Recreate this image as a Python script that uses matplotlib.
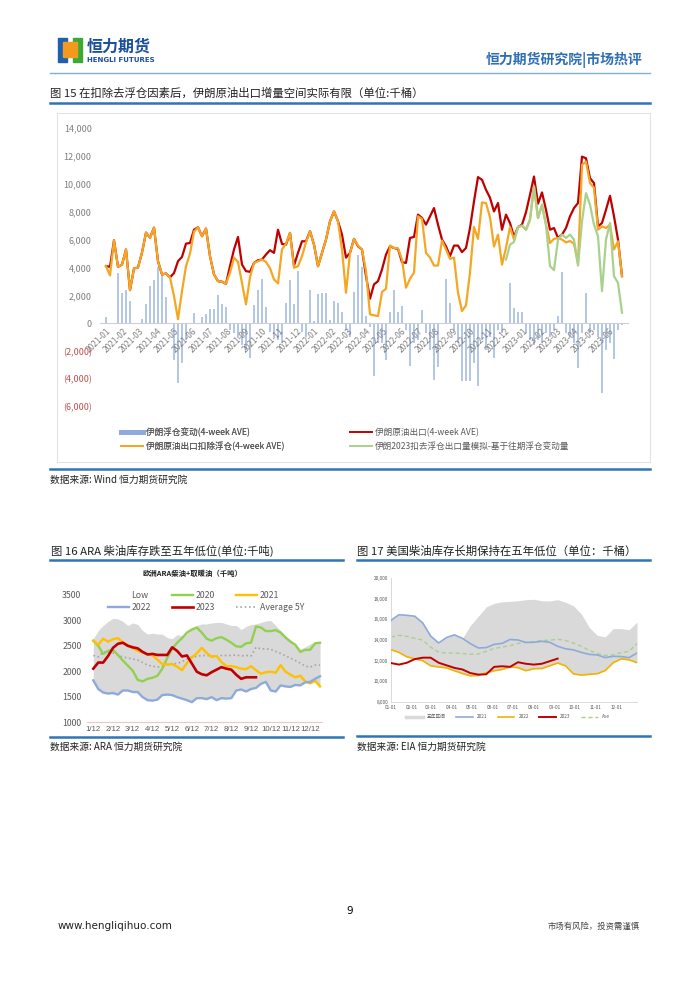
import numpy as np
import pandas as pd
import matplotlib
matplotlib.use("Agg")
import matplotlib.pyplot as plt
from matplotlib.patches import Rectangle
from matplotlib.lines import Line2D

plt.rcParams['font.family'] = ['Noto Sans CJK SC', 'DejaVu Sans']

# ---------------------------------
# 图15 伊朗 (千桶, 周度, 2021-01 起)
# ---------------------------------

iran_float_chg = [
    480, 0, 0, 3570, 2140, 2380, 1620, 0, 0, 290,
    1380, 2670, 3100, 4050, 3570, 1900, 0, -2600, -4290, -2860,
    -1190, 0, 710, 0, 480, 670, 1000, 1020, 2020, 1380,
    1140, -480, -710, -1070, -1550, -1900, -2500, 1310, 2380, 3210,
    1190, -600, -950, -1190, -1380, 1480, 3100, 1380, 3760, -600,
    -950, 2380, 190, 2090, 2190, 2190, 240, 1620, 1480, 830,
    -480, -950, 2260, 4880, 4050, 520, -240, -3810, -1430, -1430,
    -2620, 830, 2380, 830, 1240, -480, -3050, -1430, -1190, 950,
    -670, -1900, -4050, -3100, 0, 3210, 1430, -480, -1430, -4170,
    -4170, -4170, -2860, -4530, -1190, -1900, -950, -2500, -480, -710,
    0, 2860, 1070, 830, 830, -670, -1190, -1550, -1190, -1430,
    -710, -950, -480, 520, 3690, -710, -950, -1430, -3210, -710,
    2190, -710, -480, -950, -5000, -1900, -1430, -2570, -480, -120,
]

iran_export = [
    4100, 4050, 5950, 4050, 4200, 5290, 2380, 3930, 4000, 5070,
    6500, 6140, 6860, 4450, 3500, 3570, 3290, 3600, 4450, 4760,
    5710, 5760, 6710, 6880, 6240, 6790, 4810, 3500, 3020, 2980,
    2830, 4100, 5290, 6190, 4210, 3740, 3690, 4330, 4520, 4570,
    4930, 5240, 5050, 6710, 5690, 5640, 6480, 4140, 5050, 5880,
    5880, 6600, 5640, 4090, 5050, 6000, 7310, 8020, 7310, 6360,
    4710, 5050, 6050, 5520, 5290, 3380, 1760, 2790, 3020, 3860,
    4930, 5520, 5400, 5330, 4380, 4330, 6120, 6190, 7790, 7550,
    7070, 7670, 8260, 7070, 6000, 5520, 4810, 5570, 5570, 5100,
    5400, 6830, 8740, 10480, 10290, 9570, 9000, 8020, 8620, 6710,
    7790, 7190, 6200, 6900, 7070, 7960, 9210, 10520, 8570, 9380,
    8140, 6710, 6830, 6120, 6360, 6830, 7670, 8260, 8620, 11950,
    11830, 10400, 10050, 6950, 7190, 8140, 9140, 7670, 6000, 3380,
]

iran_export_net = [
    4100, 3430, 5950, 4050, 4200, 5290, 2380, 3930, 4000, 5070,
    6500, 6140, 6860, 4450, 3500, 3570, 3290, 1950, 290, 2310,
    4090, 5000, 6570, 6880, 6240, 6790, 4810, 3500, 3020, 2980,
    2830, 3640, 4700, 4400, 2900, 1360, 3300, 4330, 4450, 4570,
    4400, 3950, 3140, 2860, 5300, 5700, 6480, 3980, 4090, 4810,
    5800, 6600, 5640, 4090, 5050, 6000, 7310, 8020, 7310, 5290,
    2190, 5050, 6050, 5570, 5290, 3740, 640, 570, 520, 2240,
    2480, 5570, 5400, 5380, 4570, 2550, 3190, 3640, 7670, 7480,
    5050, 4710, 4140, 4140, 5930, 5290, 4620, 4710, 2190, 880,
    1290, 3640, 6900, 6050, 8670, 8620, 7600, 5500, 6360, 4210,
    5400, 6900, 6000, 6900, 7000, 6710, 7430, 9810, 7550, 8500,
    7070, 5760, 6050, 6120, 6000, 5800, 5900, 5700, 4300, 11360,
    11590, 10050, 9710, 6710, 6950, 6830, 7070, 5290, 5880, 3380,
]

sim_start = 100
iran_sim_2023 = [
    4570, 5640, 5830, 6900, 7000, 6710, 7430, 9810, 7550, 8500,
    7070, 4100, 3810, 6000, 6360, 6120, 6360, 6000, 4140, 7310,
    9330, 8500, 7070, 6240, 2310, 6000, 7190, 3380, 2900, 760,
]

# ---------------------------------
# 图16 ARA (千吨, 约每周一点, 1/12 起)
# ---------------------------------

ara_high = [2640, 2800, 2900, 2980, 3040, 3030, 2980, 2900, 2950, 2920,
            2800, 2730, 2750, 2730, 2730, 2660, 2640, 2720, 2700, 2740,
            2850, 2900, 2930, 2930, 2950, 2960, 2960, 2930, 2900, 2900,
            2820, 2880, 2920, 2930, 2960, 2990, 3000, 2900, 2800, 2700,
            2620, 2520, 2430, 2480, 2540, 2560, 2560]
ara_low = [1820, 1650, 1580, 1560, 1570, 1540, 1620, 1620, 1590, 1590,
           1490, 1430, 1420, 1440, 1530, 1540, 1530, 1490, 1460, 1430,
           1390, 1470, 1470, 1450, 1490, 1430, 1470, 1460, 1470, 1620,
           1640, 1600, 1650, 1670, 1750, 1790, 1620, 1600, 1720, 1700,
           1690, 1730, 1720, 1780, 1760, 1800, 1700]
ara_2020 = [2600, 2500, 2340, 2400, 2420, 2320, 2210, 2110, 2010, 1830,
            1800, 1850, 1870, 1910, 2050, 2260, 2440, 2560, 2650, 2760,
            2820, 2860, 2760, 2640, 2600, 2650, 2670, 2620, 2560, 2490,
            2480, 2550, 2560, 2880, 2860, 2790, 2790, 2810, 2760, 2660,
            2580, 2520, 2380, 2420, 2420, 2550, 2560]
ara_2021 = [2600, 2520, 2640, 2580, 2630, 2650, 2570, 2510, 2450, 2400,
            2370, 2340, 2310, 2230, 2140, 2130, 2140, 2090, 2020, 2160,
            2270, 2350, 2460, 2360, 2280, 2300, 2180, 2100, 2100, 2080,
            2050, 2040, 2100, 2020, 1950, 1980, 1990, 1970, 2120, 1990,
            1930, 1880, 1910, 1800, 1760, 1810, 1700]
ara_2022 = [1820, 1650, 1580, 1560, 1570, 1540, 1620, 1620, 1590, 1590,
            1490, 1430, 1420, 1440, 1530, 1540, 1530, 1490, 1460, 1430,
            1390, 1470, 1470, 1450, 1490, 1430, 1470, 1460, 1470, 1620,
            1640, 1600, 1650, 1670, 1750, 1790, 1620, 1600, 1720, 1700,
            1690, 1730, 1720, 1780, 1790, 1850, 1900]
ara_2023 = [2050, 2170, 2170, 2300, 2460, 2540, 2560, 2500, 2470, 2450,
            2380, 2330, 2340, 2320, 2320, 2320, 2470, 2400, 2290, 2310,
            2150, 1990, 1940, 1920, 1980, 2030, 2080, 2050, 2030, 1930,
            1850, 1880, 1880, 1880]
ara_avg5y = [2310, 2280, 2380, 2370, 2360, 2320, 2280, 2260, 2240, 2220,
             2170, 2120, 2100, 2080, 2100, 2140, 2150, 2150, 2190, 2240,
             2280, 2290, 2310, 2310, 2300, 2290, 2310, 2310, 2310, 2320,
             2300, 2310, 2300, 2470, 2440, 2440, 2430, 2390, 2350, 2300,
             2260, 2210, 2160, 2100, 2080, 2120, 2120]
ara_months = ['1/12', '2/12', '3/12', '4/12', '5/12', '6/12',
              '7/12', '8/12', '9/12', '10/12', '11/12', '12/12']

# ---------------------------------
# 图17 美国柴油 (千桶)
# ---------------------------------

us_high = [15900, 16440, 16390, 16300, 15650, 14380, 13710, 14240, 14500, 14160,
           15400, 16300, 17200, 17550, 17700, 17740, 17800, 17900, 17940, 17800,
           17780, 17900, 17650, 17300, 16500, 15200, 14450, 14300, 15100, 15100,
           15000, 15740]
us_2021 = [15900, 16440, 16390, 16300, 15650, 14380, 13710, 14240, 14500, 14160,
           13650, 13230, 13260, 13580, 13670, 14050, 14000, 13760, 13780, 13870,
           13780, 13390, 13150, 13040, 12800, 12610, 12550, 12300, 12420, 12400,
           12290, 12740]
us_2022 = [13060, 12800, 12370, 12180, 11990, 11500, 11390, 11300, 11020, 10760,
           10530, 10570, 10830, 11020, 11150, 11390, 11320, 11030, 11220, 11240,
           11500, 11770, 11500, 10720, 10600, 10680, 10740, 11050, 11800, 12180,
           12080, 11810]
us_2023 = [11770, 11620, 11800, 12150, 12290, 12290, 11800, 11550, 11300, 11150,
           10800, 10650, 10680, 11400, 11460, 11400, 11850, 11700, 11620, 11700,
           11950, 12200]
us_avg = [14290, 14450, 14350, 14160, 13990, 13300, 12820, 12740, 12740, 12690,
          12620, 12640, 12900, 13180, 13320, 13450, 13660, 13770, 13840, 13970,
          13970, 14080, 13950, 13700, 13390, 12980, 12700, 12500, 12560, 12780,
          12900, 13650]
us_months = ['01-01', '02-01', '03-01', '04-01', '05-01', '06-01',
             '07-01', '08-01', '09-01', '10-01', '11-01', '12-01']

W, H = 700, 990
BLUE_LINE = '#2e75b6'
GRAY_TXT = '#7f7f7f'


def px_axes(fig, left, top, right, bottom):
    return fig.add_axes([left / W, 1 - bottom / H,
                         (right - left) / W, (bottom - top) / H])


fig = plt.figure(figsize=(W / 100, H / 100), dpi=100)

# ---------------------------------
# Página (coordenadas en píxeles)
# ---------------------------------

page = fig.add_axes([0, 0, 1, 1])
page.set_xlim(0, W)
page.set_ylim(H, 0)
page.axis('off')

# logo
page.add_patch(Rectangle((58, 38), 9, 24, color='#1f5fb0'))
page.add_patch(Rectangle((73, 38), 9, 24, color='#3aaa35'))
page.add_patch(Rectangle((63, 42), 14, 15, color='#f39a1e'))
page.text(87, 47, '恒力期货', fontsize=11.5, fontweight='bold',
          color='#1b4f9c', va='center')
page.text(87, 60.5, 'HENGLI FUTURES', fontsize=5, fontweight='bold',
          color='#1b4f9c', va='center', family='DejaVu Sans')
page.text(642, 60, '恒力期货研究院|市场热评', fontsize=10, fontweight='bold',
          color='#2f6eb5', ha='right', va='center')
page.plot([50, 650], [73, 73], color='#7fb0dc', lw=1)

page.text(50, 93, '图 15 在扣除去浮仓因素后，伊朗原油出口增量空间实际有限（单位:千桶）',
          fontsize=8.2, color='#222222', va='center')
page.plot([50, 650], [103, 103], color=BLUE_LINE, lw=1.8)
page.add_patch(Rectangle((57, 113), 593, 349, fill=False,
                         edgecolor='#e3e3e3', lw=0.8))
page.plot([50, 650], [469, 469], color=BLUE_LINE, lw=1.8)
page.text(50, 480, '数据来源: Wind 恒力期货研究院', fontsize=7,
          color='#222222', va='center')

page.text(51, 551, '图 16 ARA 柴油库存跌至五年低位(单位:千吨)',
          fontsize=8.2, color='#222222', va='center')
page.plot([50, 343], [560, 560], color=BLUE_LINE, lw=1.8)
page.plot([50, 343], [737, 737], color=BLUE_LINE, lw=1.8)
page.text(50, 747, '数据来源: ARA 恒力期货研究院', fontsize=7,
          color='#222222', va='center')

page.text(357, 551, '图 17 美国柴油库存长期保持在五年低位（单位：千桶）',
          fontsize=8.2, color='#222222', va='center')
page.plot([357, 650], [560, 560], color=BLUE_LINE, lw=1.8)
page.plot([357, 650], [736, 736], color=BLUE_LINE, lw=1.8)
page.text(357, 747, '数据来源: EIA 恒力期货研究院', fontsize=7,
          color='#222222', va='center')

page.text(350, 911, '9', fontsize=7.5, ha='center', va='center',
          family='DejaVu Sans')
page.text(58, 926, 'www.hengliqihuo.com', fontsize=7.5, va='center',
          family='DejaVu Sans', color='#222222')
page.text(640, 926, '市场有风险，投资需谨慎', fontsize=6, ha='right',
          va='center', color='#444444')

# ---------------------------------
# 图15
# ---------------------------------

ax = px_axes(fig, 100, 128, 628, 407)
ax.set_facecolor('none')

# el eje x va sobre el cero (antes de poner etiquetas: set_position rehace los ticks)
for s in ('top', 'right', 'left'):
    ax.spines[s].set_visible(False)
ax.spines['bottom'].set_position(('data', 0))
ax.spines['bottom'].set_color('#d0d0d0')
ax.spines['bottom'].set_linewidth(0.8)

wk = np.arange(len(iran_export))
ax.bar(wk, iran_float_chg, width=0.4, color='#b4c7e7', zorder=1)
ax.plot(wk, iran_export, color='#c00000', lw=1.6, zorder=3)
ax.plot(wk, iran_export_net, color='#f5a623', lw=1.6, zorder=4)
ax.plot(np.arange(sim_start, sim_start + len(iran_sim_2023)), iran_sim_2023,
        color='#a9d18e', lw=1.6, zorder=5)
ax.set_xlim(-1.5, 130.5)
ax.set_ylim(-6000, 14000)

yt = np.arange(-6000, 14001, 2000)
ax.set_yticks(yt)
ax.set_yticklabels([f'({abs(v):,})' if v < 0 else f'{v:,}' for v in yt],
                   fontsize=6.5)
for lab, v in zip(ax.get_yticklabels(), yt):
    lab.set_color('#c0504d' if v < 0 else GRAY_TXT)

months = pd.date_range('2021-01-01', '2023-06-01', freq='MS')
ax.set_xticks((months - pd.Timestamp('2021-01-01')).days / 7)
ax.set_xticklabels(months.strftime('%Y-%m'), rotation=45, ha='right',
                   va='top', fontsize=6, color=GRAY_TXT,
                   rotation_mode='anchor')
ax.tick_params(axis='both', length=0)
ax.tick_params(axis='x', pad=2)
ax.tick_params(axis='y', pad=6)

leg_a = fig.legend(
    handles=[Line2D([], [], color='#8faadc', lw=3.5),
             Line2D([], [], color='#f5a623', lw=1.4)],
    labels=['伊朗浮仓变动(4-week AVE)', '伊朗原油出口扣除浮仓(4-week AVE)'],
    loc='upper left', bbox_to_anchor=(113 / W, 1 - 420 / H),
    frameon=False, fontsize=6.2, handlelength=2.6, handletextpad=0.3,
    labelspacing=0.55, labelcolor='#595959')
fig.legend(
    handles=[Line2D([], [], color='#c00000', lw=1.4),
             Line2D([], [], color='#a9d18e', lw=1.4)],
    labels=['伊朗原油出口(4-week AVE)', '伊朗2023扣去浮仓出口量模拟-基于往期浮仓变动量'],
    loc='upper left', bbox_to_anchor=(342 / W, 1 - 420 / H),
    frameon=False, fontsize=6.2, handlelength=2.6, handletextpad=0.3,
    labelspacing=0.55, labelcolor='#595959')
fig.add_artist(leg_a)

# ---------------------------------
# 图16
# ---------------------------------

ax16 = px_axes(fig, 87, 595, 322, 722)
ax16.set_facecolor('none')
m16 = np.arange(len(ara_high)) * 0.25
ax16.fill_between(m16, ara_low, ara_high, color='#d9d9d9', lw=0, zorder=1)
ax16.plot(m16, ara_2020, color='#92d050', lw=1.7, zorder=3)
ax16.plot(m16, ara_2021, color='#ffc000', lw=1.7, zorder=3)
ax16.plot(m16, ara_2022, color='#8eaadb', lw=1.7, zorder=3)
ax16.plot(m16[:len(ara_2023)], ara_2023, color='#c00000', lw=1.9, zorder=4)
ax16.plot(m16, ara_avg5y, color='#a6a6a6', lw=1.2, ls=(0, (1, 1.6)), zorder=2)
ax16.set_xlim(-0.32, 11.6)
ax16.set_ylim(1000, 3500)
ax16.set_yticks(np.arange(1000, 3501, 500))
ax16.set_xticks(np.arange(len(ara_months)))
ax16.set_xticklabels(ara_months, family='Liberation Sans', fontsize=5.6)
ax16.tick_params(length=0, labelcolor='#595959')
ax16.tick_params(axis='y', labelsize=6.3, pad=4)
ax16.tick_params(axis='x', pad=3)
for s in ('top', 'right', 'left'):
    ax16.spines[s].set_visible(False)
ax16.spines['bottom'].set_color('#f2c4c4')
ax16.spines['bottom'].set_linewidth(0.8)
ax16.text(0.45, 1.17, '欧洲ARA柴油+取暖油（千吨）', transform=ax16.transAxes,
          ha='center', va='center', fontsize=5.3, fontweight='bold',
          color='#222222')

h16 = [Rectangle((0, 0), 1, 1, facecolor='none', edgecolor='none'),
       Line2D([], [], color='#8eaadb', lw=1.7),
       Line2D([], [], color='#92d050', lw=1.7),
       Line2D([], [], color='#c00000', lw=1.9),
       Line2D([], [], color='#ffc000', lw=1.7),
       Line2D([], [], color='#a6a6a6', lw=1.2, ls=(0, (1, 1.6)))]
fig.legend(handles=h16, labels=['Low', '2022', '2020', '2023', '2021', 'Average 5Y'],
           ncol=3, loc='upper left', bbox_to_anchor=(100 / W, 1 - 583 / H),
           frameon=False, fontsize=6.3, handlelength=2.4, handletextpad=0.3,
           columnspacing=2.4, labelspacing=0.35, labelcolor='#595959')

# ---------------------------------
# 图17
# ---------------------------------

ax17 = px_axes(fig, 391, 578, 637, 702)
ax17.set_facecolor('none')
d17 = np.linspace(0, 365, len(us_high))
ax17.fill_between(d17, us_2022, us_high, color='#d9d9d9', lw=0, zorder=1)
ax17.plot(d17, us_2021, color='#8eaadb', lw=1.2, zorder=3)
ax17.plot(d17, us_2022, color='#f0b400', lw=1.2, zorder=3)
ax17.plot(d17[:len(us_2023)], us_2023, color='#c00000', lw=1.4, zorder=4)
ax17.plot(d17, us_avg, color='#a9d18e', lw=1.0, ls=(0, (3, 2)), zorder=2)
ax17.set_xlim(0, 365)
ax17.set_ylim(8000, 20000)
yt17 = np.arange(8000, 20001, 2000)
ax17.set_yticks(yt17)
ax17.set_yticklabels([f'{v:,}' for v in yt17])
month_start = [0, 31, 59, 90, 120, 151, 181, 212, 243, 273, 304, 334]
ax17.set_xticks(month_start)
ax17.set_xticklabels(us_months)
ax17.tick_params(length=0, labelsize=3.4, labelcolor='#595959', pad=2)
for s in ('top', 'right'):
    ax17.spines[s].set_visible(False)
for s in ('left', 'bottom'):
    ax17.spines[s].set_color('#d9d9d9')
    ax17.spines[s].set_linewidth(0.7)

h17 = [Line2D([], [], color='#d9d9d9', lw=2.5),
       Line2D([], [], color='#8eaadb', lw=1.2),
       Line2D([], [], color='#f0b400', lw=1.2),
       Line2D([], [], color='#c00000', lw=1.4),
       Line2D([], [], color='#a9d18e', lw=1.0, ls=(0, (3, 2)))]
fig.legend(handles=h17, labels=['五年区间', '2021', '2022', '2023', 'Ave'],
           ncol=5, loc='center', bbox_to_anchor=(508 / W, 1 - 717 / H),
           frameon=False, fontsize=3.4, handlelength=3.5, handletextpad=0.9,
           columnspacing=2.2, labelcolor='#595959')

fig.savefig('out.png', dpi=100)
